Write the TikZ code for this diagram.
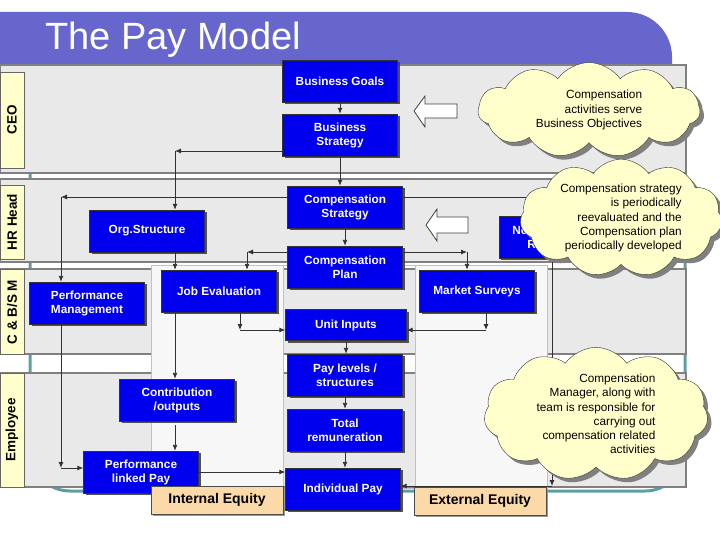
\documentclass[tikz,border=0pt]{standalone}
\usepackage{fontspec}
\setmainfont{Liberation Sans}
\usetikzlibrary{arrows.meta,positioning,calc,shapes.symbols,shadows}

\definecolor{titlebar}{RGB}{102,102,204}
\definecolor{boxblue}{RGB}{0,0,238}
\definecolor{bandgray}{RGB}{233,233,233}
\definecolor{bandline}{RGB}{128,128,128}
\definecolor{labelyellow}{RGB}{255,255,204}
\definecolor{cloudyellow}{RGB}{255,255,204}
\definecolor{equitypeach}{RGB}{252,217,168}
\definecolor{tealframe}{RGB}{95,158,160}
\definecolor{colfill}{RGB}{247,247,247}
\definecolor{colline}{RGB}{190,190,212}
\definecolor{wiregray}{RGB}{50,50,50}

\tikzset{
  paybox/.style={rectangle, draw=black!80, fill=boxblue, text=white, align=center,
    font=\bfseries\fontsize{11.8}{14}\selectfont, minimum width=115pt, minimum height=42pt,
    inner sep=2pt, drop shadow={shadow xshift=2pt, shadow yshift=-2pt, fill=black!75, opacity=0.9}},
  lanelabel/.style={draw=black!60, fill=labelyellow, rotate=90, minimum height=24pt, inner sep=0pt,
    font=\bfseries\fontsize{13.5}{16}\selectfont},
  band/.style={draw=bandline, line width=1.2pt, fill=bandgray},
  column/.style={draw=colline, line width=1pt, fill=colfill},
  cloudnote/.style={cloud, cloud puffs=11, cloud puff arc=110, cloud ignores aspect,
    draw=black!80, fill=cloudyellow, align=right, inner sep=0pt,
    font=\fontsize{11.8}{14.3}\selectfont,
    drop shadow={shadow xshift=4pt, shadow yshift=-4pt, fill=black!50, opacity=1}},
  equitybox/.style={draw=black!70, fill=equitypeach, minimum width=132pt, minimum height=28pt,
    font=\bfseries\fontsize{14}{16}\selectfont,
    drop shadow={shadow xshift=1.5pt, shadow yshift=-1.5pt, fill=black!40, opacity=1}},
  blockarrow/.style={draw=black!75, fill=white, line width=0.8pt},
  link/.style={draw=wiregray, line width=0.9pt, -{Latex[length=6pt,width=5pt]}}
}

\begin{document}
\begin{tikzpicture}[x=1pt, y=-1pt]
\useasboundingbox (0,0) rectangle (720,540);

% 标题栏
\fill[titlebar, rounded corners=45pt] (-60,12) rectangle (672,150);
\node[anchor=base west, text=white, inner sep=0pt, font=\fontsize{38}{40}\selectfont] (title) at (45,50) {The Pay Model};

% 青色外框
\draw[tealframe, line width=3pt, fill=white, rounded corners=40pt] (30,120) rectangle (685,491);

% 四个层级
\draw[band] (0,65) rectangle (686,173);
\draw[band] (0,179) rectangle (686,262);
\draw[band] (0,269) rectangle (686,354);
\draw[band] (0,373) rectangle (686,487);

% 三列
\draw[column] (151,265) rectangle (283,488);
\draw[colline, line width=1pt] (283,265) rectangle (415,488);
\draw[column] (415,265) rectangle (547,488);

% 层级标签
\node[lanelabel, minimum width=96pt] (ceo) at (12,120) {CEO};
\node[lanelabel, minimum width=74pt] (hrhead) at (12,222) {HR Head};
\node[lanelabel, minimum width=85pt] (cbsm) at (12,312) {C \& B/S M};
\node[lanelabel, minimum width=114pt] (employee) at (12,430) {Employee};

% 连接点
\coordinate (c1) at (175,151);
\coordinate (c2) at (61,197);
\coordinate (c3) at (61,468);
\coordinate (c4) at (247,252);
\coordinate (c5) at (467,252);
\coordinate (c6) at (240,330);
\coordinate (c7) at (486,330);
\coordinate (c8) at (552,486);

% 蓝色方框
\node[paybox] (goals) at (340,81) {Business Goals};
\node[paybox] (strategy) at (340,135) {Business\\Strategy};
\node[paybox] (compstrat) at (345,207) {Compensation\\Strategy};
\node[paybox] (compplan) at (345,267) {Compensation\\Plan};
\node[paybox] (orgstruct) at (147,231) {Org.Structure};
\node[paybox, minimum width=106pt] (nonmon) at (552,237) {Non-Monetary\\Rewards};
\node[paybox] (perfmgmt) at (87,303) {Performance\\Management};
\node[paybox] (jobeval) at (219,291) {Job Evaluation};
\node[paybox] (market) at (477,291) {Market Surveys};
\node[paybox, minimum width=121pt, minimum height=31pt] (unitin) at (346,325) {Unit Inputs};
\node[paybox] (paylevels) at (345,375) {Pay levels /\\structures};
\node[paybox] (contrib) at (177,400) {Contribution\\/outputs};
\node[paybox] (totalrem) at (345,430) {Total\\remuneration};
\node[paybox] (perfpay) at (141,472) {Performance\\linked Pay};
\node[paybox] (indpay) at (343,489) {Individual Pay};

% 连线
\draw[link] (goals) -- (strategy);
\draw[link] (strategy.west |- c1) -- (c1);
\draw[link] (c1) -- (c1 |- orgstruct.north);
\draw[link] (strategy.south) -- (strategy.south |- compstrat.north);
\draw[link] (compstrat.west |- c2) -- (c2);
\draw[link] (c2) -- (c2 |- perfmgmt.north);
\draw[link] (c2 |- perfmgmt.south) -- (c3);
\draw[link] (c3) -- (c3 -| perfpay.west);
\draw[link] (compstrat.east |- c2) -| (nonmon.north);
\draw[link] (compstrat) -- (compplan);
\draw[link] (compplan.west |- c4) -- (c4);
\draw[link] (c4) -- (c4 |- jobeval.north);
\draw[link] (compplan.east |- c4) -- (c5);
\draw[link] (c5) -- (c5 |- market.north);
\draw[link] (c1 |- orgstruct.south) -- (c1 |- jobeval.north);
\draw[link] (c6 |- jobeval.south) -- (c6);
\draw[link] (c6) -- (c6 -| unitin.west);
\draw[link] (c7 |- market.south) -- (c7);
\draw[link] (c7) -- (c7 -| unitin.east);
\draw[link] (c1 |- jobeval.south) -- (c1 |- contrib.north);
\draw[link, shorten <=4pt] (c1 |- contrib.south) -- (c1 |- perfpay.north);
\draw[link] (unitin.south) -- (unitin.south |- paylevels.north);
\draw[link] (paylevels) -- (totalrem);
\draw[link] (totalrem.south) -- (totalrem.south |- indpay.north);
\draw[link] (perfpay.east) -- (perfpay.east -| indpay.west);
\draw[link] (nonmon) -- (c8);
\draw[link] (c8) -- (c8 -| indpay.east);

% 白色箭头
\draw[blockarrow] (414,111) -- (425,96) -- (425,104) -- (457,104) -- (457,118) -- (425,118) -- (425,127) -- cycle;
\draw[blockarrow] (426,225) -- (437,209) -- (437,217) -- (468,217) -- (468,233) -- (437,233) -- (437,241) -- cycle;

% 云形说明
\node[cloudnote, minimum width=222pt, minimum height=95pt] (note1) at (589,110)
  {Compensation\\activities serve\\Business Objectives};
\node[cloudnote, minimum width=202pt, minimum height=110pt] (note2) at (621,218)
  {Compensation strategy\\is periodically\\reevaluated and the\\Compensation plan\\periodically developed};
\node[cloudnote, minimum width=224pt, minimum height=123pt] (note3) at (596,414)
  {Compensation\\Manager, along with\\team is responsible for\\carrying out\\compensation related\\activities};

% 公平性
\node[equitybox] (inteq) at (217,500) {Internal Equity};
\node[equitybox] (exteq) at (480,501) {External Equity};
\end{tikzpicture}
\end{document}
